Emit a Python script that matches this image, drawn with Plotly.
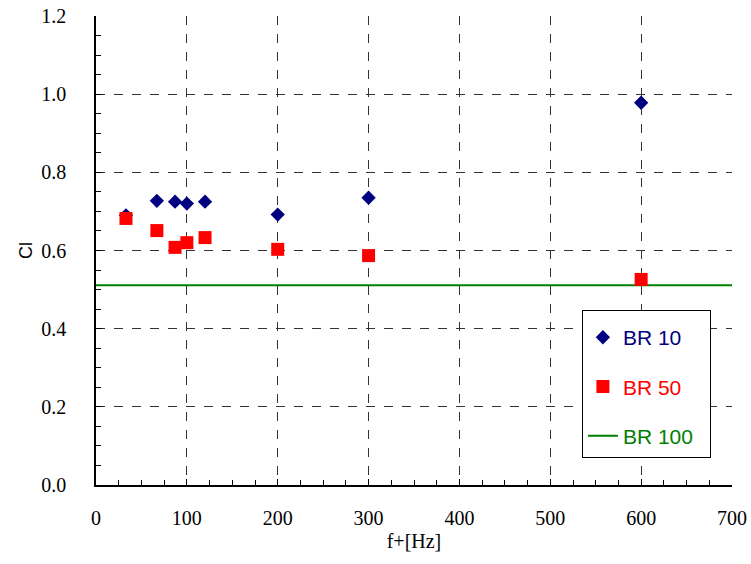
import plotly.graph_objects as go

freq = [33, 67, 87, 100, 120, 200, 300, 600]
br10 = [0.69, 0.727, 0.725, 0.72, 0.725, 0.692, 0.735, 0.978]
br50 = [0.682, 0.651, 0.608, 0.62, 0.633, 0.603, 0.587, 0.526]
br100_level = 0.511
x_range = [0, 700]
y_range = [0, 1.2]

TICKFONT = "Liberation Sans Narrow"
FONT = "Liberation Sans"

fig = go.Figure()
fig.add_trace(go.Scatter(
    x=x_range, y=[br100_level, br100_level], mode="lines",
    name="<span style='color:#008000'>BR 100</span>&nbsp;&nbsp;",
    line=dict(color="#008000", width=2),
    legendgroup="c", legendrank=3,
))
fig.add_trace(go.Scatter(
    x=freq, y=br10, mode="markers",
    name="<span style='color:#000080'>BR 10</span>",
    marker=dict(symbol="diamond", size=11, color="#000080"),
    legendgroup="a", legendrank=1,
))
fig.add_trace(go.Scatter(
    x=freq, y=br50, mode="markers",
    name="<span style='color:#FF0000'>BR 50</span>",
    marker=dict(symbol="square", size=13, color="#FF0000"),
    legendgroup="b", legendrank=2,
))

fig.update_layout(
    width=751, height=564,
    margin=dict(l=96, r=19, t=16, b=79),
    paper_bgcolor="white", plot_bgcolor="white",
    font=dict(family=TICKFONT, size=20, color="black"),
    showlegend=True,
    legend=dict(
        x=0.764, y=0.374, xanchor="left", yanchor="top",
        bordercolor="black", borderwidth=1, bgcolor="white",
        font=dict(family=FONT, size=21),
        title=dict(text=" ", font=dict(size=5)),
        tracegroupgap=19, traceorder="grouped",
        itemwidth=30,
    ),
    xaxis=dict(
        range=x_range, dtick=100, tick0=0, automargin=False,
        showgrid=True, gridcolor="#333333", griddash="dash", gridwidth=1,
        showline=True, linecolor="black", linewidth=1.5, mirror=False,
        ticks="inside", ticklen=6, tickcolor="black",
        minor=dict(dtick=25, ticks="inside", ticklen=5, tickcolor="black", showgrid=False),
        ticklabelstandoff=14,
        zeroline=False,
        title=dict(text="f+[Hz]", standoff=6, font=dict(family=TICKFONT, size=20)),
    ),
    yaxis=dict(
        range=y_range, dtick=0.2, tick0=0, tickformat=".1f", automargin=False,
        showgrid=True, gridcolor="#333333", griddash="dash", gridwidth=1,
        showline=True, linecolor="black", linewidth=1.5, mirror=False,
        ticks="inside", ticklen=6, tickcolor="black",
        minor=dict(dtick=0.05, ticks="inside", ticklen=5, tickcolor="black", showgrid=False),
        ticklabelstandoff=24,
        zeroline=False,
        title=dict(text="Cl", standoff=4, font=dict(family=FONT, size=18)),
    ),
)

fig.write_html("out.html")
